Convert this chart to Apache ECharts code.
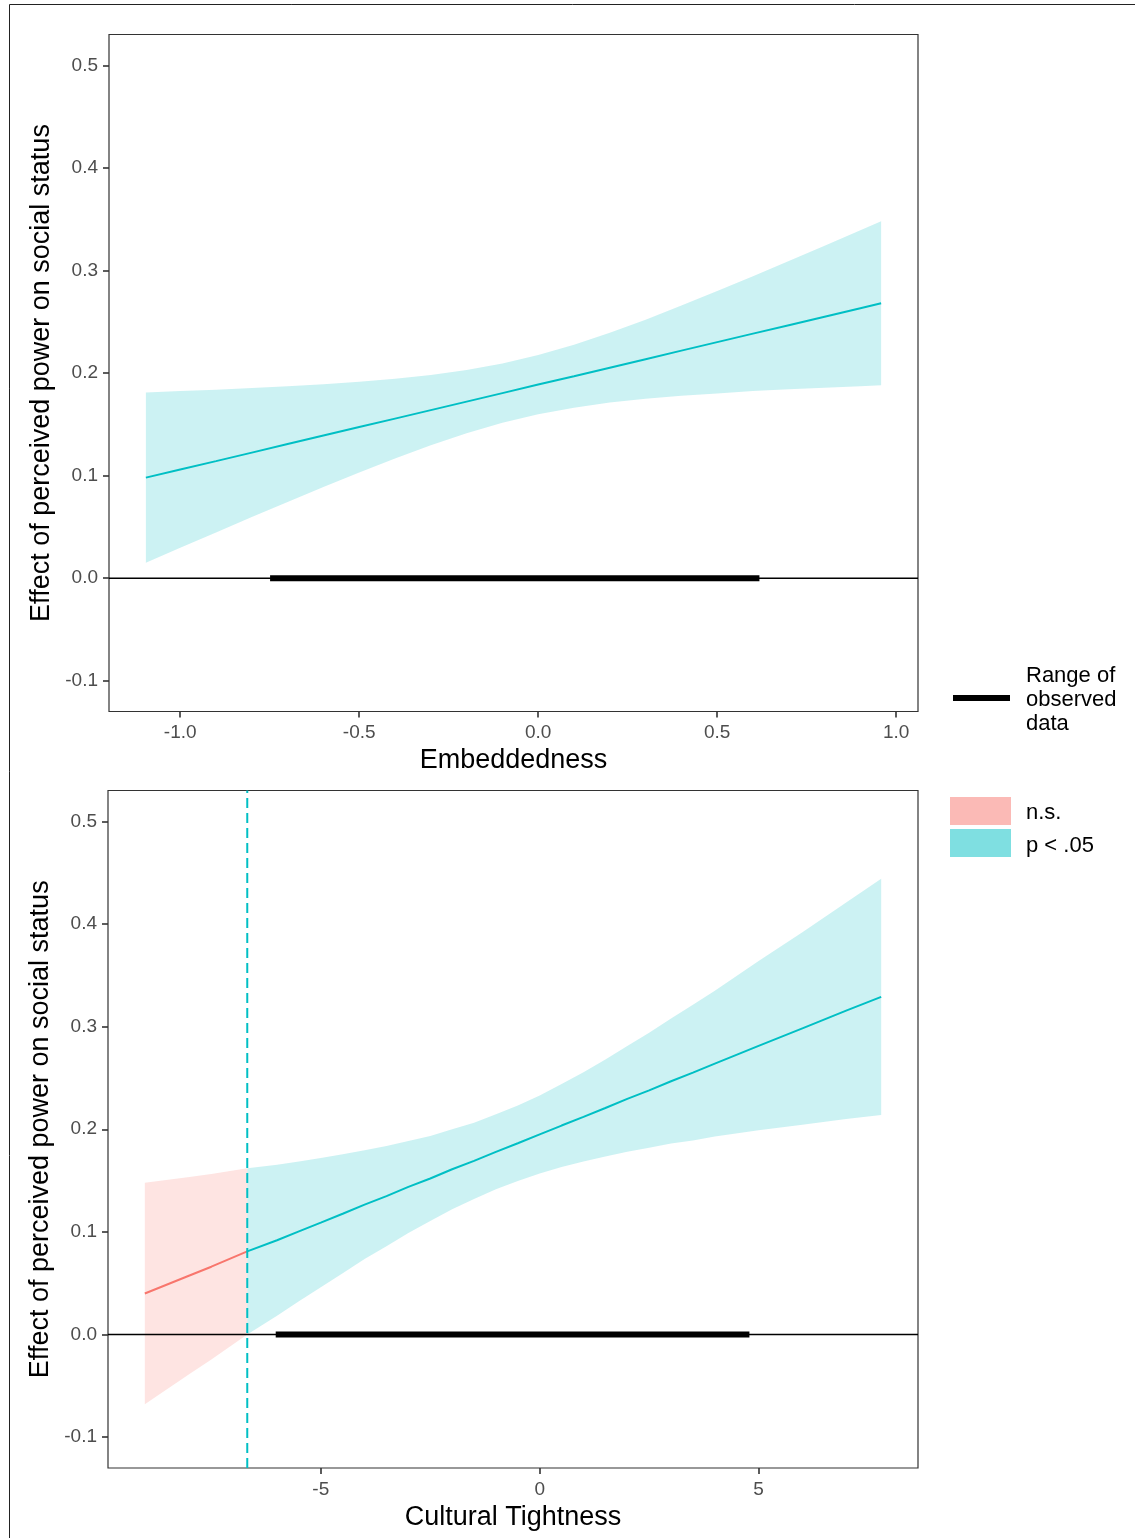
<!DOCTYPE html>
<html><head><meta charset="utf-8">
<script src="https://cdn.jsdelivr.net/npm/echarts@6/dist/echarts.min.js"></script>
<style>html,body{margin:0;padding:0;background:#fff}#c{width:1135px;height:1538px}</style>
</head><body><div id="c"></div>
<script>
// ---- Panel 1: Embeddedness ----
const embX     = [-1.096, -1.0, -0.9, -0.8, -0.7, -0.6, -0.5, -0.4, -0.3, -0.2, -0.1, 0, 0.1, 0.2, 0.3, 0.4, 0.5, 0.6, 0.7, 0.8, 0.9, 0.958];
const embFit   = [0.098, 0.106, 0.1141, 0.1224, 0.1307, 0.139, 0.1473, 0.1555, 0.1638, 0.1721, 0.1804, 0.1887, 0.1969, 0.2052, 0.2135, 0.2218, 0.2301, 0.2384, 0.2466, 0.2549, 0.2632, 0.268];
const embUpper = [0.181, 0.1824, 0.1837, 0.1853, 0.1871, 0.1891, 0.1915, 0.1944, 0.1981, 0.2029, 0.2093, 0.2176, 0.2276, 0.2392, 0.252, 0.2657, 0.280, 0.2944, 0.3091, 0.3241, 0.3392, 0.348];
const embLower = [0.015, 0.0296, 0.0445, 0.0595, 0.0743, 0.0889, 0.1031, 0.1166, 0.1295, 0.1413, 0.1515, 0.1598, 0.1662, 0.1712, 0.175, 0.1779, 0.180, 0.1824, 0.1841, 0.1857, 0.1872, 0.188];
const embObserved = [-0.749, 0.618];
const embXTicks = [-1.0, -0.5, 0.0, 0.5, 1.0];

// ---- Panel 2: Cultural Tightness ----
const tightX     = [-9.02, -8, -7.5, -6.68, -6, -5.5, -5, -4.5, -4, -3.5, -3, -2.5, -2, -1.5, -1, -0.5, 0, 0.5, 1, 1.5, 2, 2.5, 3, 3.5, 4, 5, 6, 7, 7.8];
const tightFit   = [0.040, 0.0575, 0.0661, 0.081, 0.0919, 0.1005, 0.109, 0.1177, 0.1266, 0.1348, 0.1438, 0.152, 0.161, 0.1692, 0.178, 0.1864, 0.195, 0.2036, 0.212, 0.2207, 0.2296, 0.2379, 0.2468, 0.2551, 0.264, 0.2812, 0.2983, 0.3155, 0.329];
const tightUpper = [0.148, 0.1535, 0.1564, 0.162, 0.1654, 0.1686, 0.172, 0.1756, 0.1796, 0.1836, 0.1886, 0.1935, 0.1999, 0.2063, 0.2145, 0.2231, 0.233, 0.244, 0.2555, 0.2679, 0.281, 0.2939, 0.308, 0.3212, 0.335, 0.364, 0.392, 0.421, 0.444];
const tightLower = [-0.068, -0.0385, -0.0242, 0.000, 0.0184, 0.0324, 0.046, 0.0598, 0.0736, 0.086, 0.099, 0.1105, 0.1221, 0.1321, 0.1415, 0.1497, 0.157, 0.1632, 0.1685, 0.1735, 0.178, 0.1819, 0.186, 0.189, 0.193, 0.199, 0.2045, 0.210, 0.214];
const tightJN = -6.68;
const tightObserved = [-6.03, 4.79];
const tightXTicks = [-5, 0, 5];

const yTicks = [-0.1, 0.0, 0.1, 0.2, 0.3, 0.4, 0.5];
const yTitle = 'Effect of perceived power on social status';
const legendRangeLabel = ['Range of', 'observed', 'data'];
const legendSigLabels = ['n.s.', 'p < .05'];

const FONT = '"Liberation Sans", Arial, Helvetica, sans-serif';
const TEAL = '#00BFC4', PINK = '#F8766D';
const TEAL_BAND = 'rgba(0,191,196,0.2)', PINK_BAND = 'rgba(248,118,109,0.2)';
const YMIN = -0.13, YMAX = 0.53;

function sel(xs, arr, pred) { const o = []; xs.forEach((x, i) => { if (pred(x)) o.push(arr[i]); }); return o; }

function band(gi, xs, lo, hi, color) {
  return {
    type: 'custom', xAxisIndex: gi, yAxisIndex: gi, silent: true, z: 1, clip: true,
    data: [[xs[0], lo[0]]],
    renderItem: function (params, api) {
      const pts = [];
      for (let i = 0; i < xs.length; i++) pts.push(api.coord([xs[i], hi[i]]));
      for (let i = xs.length - 1; i >= 0; i--) pts.push(api.coord([xs[i], lo[i]]));
      return { type: 'polygon', shape: { points: pts }, style: { fill: color } };
    }
  };
}
function line(gi, data, color, width, z, type) {
  return {
    type: 'line', xAxisIndex: gi, yAxisIndex: gi, data: data, showSymbol: false, silent: true, z: z,
    animation: false, lineStyle: { color: color, width: width, type: type || 'solid', cap: 'butt' }
  };
}

function xAxis(gi, min, max, ticks, fmt, name) {
  return {
    gridIndex: gi, type: 'value', min: min, max: max,
    axisLine: { show: false, onZero: false }, splitLine: { show: false },
    axisTick: { show: true, length: 6, customValues: ticks, lineStyle: { color: '#333', width: 1.6 } },
    axisLabel: { customValues: ticks, formatter: fmt, fontSize: 19, color: '#4d4d4d', margin: 12, fontFamily: FONT },
    name: name, nameLocation: 'middle', nameGap: 36,
    nameTextStyle: { fontSize: 27, color: '#000', fontFamily: FONT }
  };
}
function yAxis(gi) {
  return {
    gridIndex: gi, type: 'value', min: YMIN, max: YMAX,
    axisLine: { show: false, onZero: false }, splitLine: { show: false },
    axisTick: { show: true, length: 6, customValues: yTicks, lineStyle: { color: '#333', width: 1.6 } },
    axisLabel: { customValues: yTicks, formatter: v => v.toFixed(1), fontSize: 19, color: '#4d4d4d', margin: 11, fontFamily: FONT },
    name: yTitle, nameLocation: 'middle', nameGap: 54, nameMoveOverlap: false,
    nameTextStyle: { fontSize: 27, color: '#000', fontFamily: FONT }
  };
}

const embMin = -1.199, embMax = 1.061;
const tightMin = -9.861, tightMax = 8.641;

const chart = echarts.init(document.getElementById('c'), null, { renderer: 'canvas' });
chart.setOption({
  animation: false,
  backgroundColor: '#fff',
  grid: [
    { left: 109, top: 34.5, width: 809, height: 677, show: true, borderColor: '#333', borderWidth: 1.2, backgroundColor: 'rgba(0,0,0,0)' },
    { left: 108, top: 790.5, width: 810, height: 677.5, show: true, borderColor: '#333', borderWidth: 1.2, backgroundColor: 'rgba(0,0,0,0)' }
  ],
  xAxis: [
    xAxis(0, embMin, embMax, embXTicks, v => v.toFixed(1), 'Embeddedness'),
    xAxis(1, tightMin, tightMax, tightXTicks, v => String(v), 'Cultural Tightness')
  ],
  yAxis: [yAxis(0), yAxis(1)],
  series: [
    // panel 1
    band(0, embX, embLower, embUpper, TEAL_BAND),
    line(0, [[embMin, 0], [embMax, 0]], '#000', 1.5, 2),
    line(0, [[embObserved[0], 0], [embObserved[1], 0]], '#000', 6, 3),
    line(0, embX.map((x, i) => [x, embFit[i]]), TEAL, 2, 4),
    // panel 2
    band(1, sel(tightX, tightX, x => x <= tightJN), sel(tightX, tightLower, x => x <= tightJN), sel(tightX, tightUpper, x => x <= tightJN), PINK_BAND),
    band(1, sel(tightX, tightX, x => x >= tightJN), sel(tightX, tightLower, x => x >= tightJN), sel(tightX, tightUpper, x => x >= tightJN), TEAL_BAND),
    line(1, [[tightMin, 0], [tightMax, 0]], '#000', 1.5, 2),
    line(1, [[tightObserved[0], 0], [tightObserved[1], 0]], '#000', 6, 3),
    line(1, sel(tightX, tightX, x => x <= tightJN).map((x, i) => [x, sel(tightX, tightFit, x => x <= tightJN)[i]]), PINK, 2, 4),
    line(1, sel(tightX, tightX, x => x >= tightJN).map((x, i) => [x, sel(tightX, tightFit, x => x >= tightJN)[i]]), TEAL, 2, 4),
    line(1, [[tightJN, YMIN], [tightJN, YMAX]], TEAL, 2, 5, [10, 5])
  ],
  graphic: [
    { type: 'rect', silent: true, shape: { x: 9.5, y: 4.5, width: 1300, height: 1700 }, style: { fill: 'none', stroke: '#222', lineWidth: 1 } },
    { type: 'line', silent: true, shape: { x1: 953, y1: 698, x2: 1010, y2: 698 }, style: { stroke: '#000', lineWidth: 6 } },
    { type: 'text', silent: true, left: 1026, top: 664, style: { text: legendRangeLabel.join('\n'), font: '22px ' + FONT, lineHeight: 24, fill: '#000' } },
    { type: 'rect', silent: true, shape: { x: 950, y: 797, width: 61, height: 28 }, style: { fill: 'rgba(248,118,109,0.5)' } },
    { type: 'rect', silent: true, shape: { x: 950, y: 829, width: 61, height: 28 }, style: { fill: 'rgba(0,191,196,0.5)' } },
    { type: 'text', silent: true, left: 1026, top: 802, style: { text: legendSigLabels[0], font: '22px ' + FONT, fill: '#000' } },
    { type: 'text', silent: true, left: 1026, top: 835, style: { text: legendSigLabels[1], font: '22px ' + FONT, fill: '#000' } }
  ]
});
</script></body></html>
